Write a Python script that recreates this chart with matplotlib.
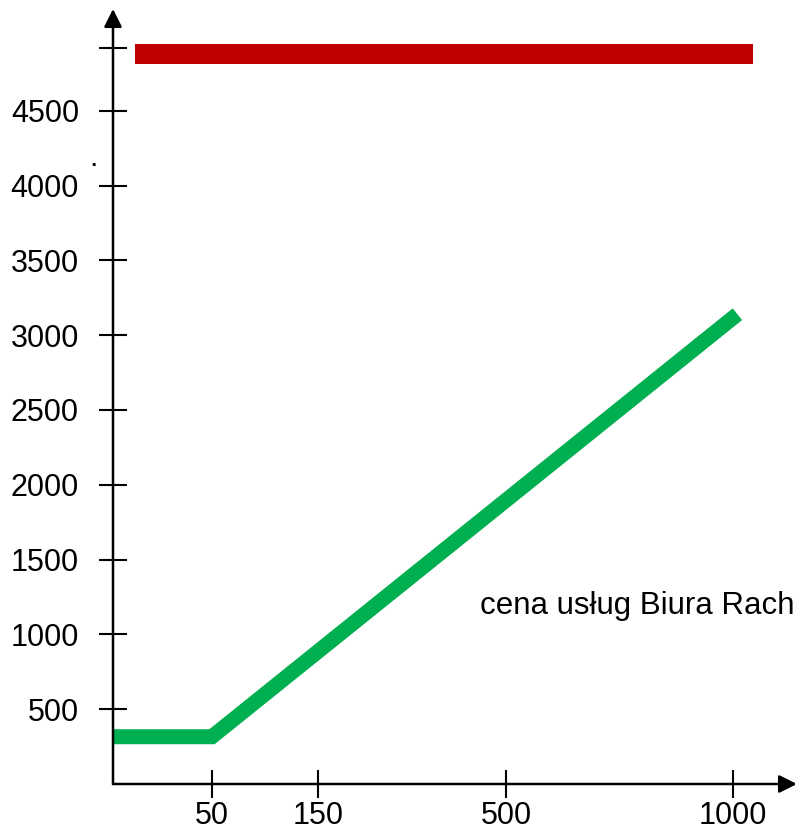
import numpy as np
import matplotlib
matplotlib.use("Agg")
import matplotlib.pyplot as plt

plt.rcParams['font.family'] = ['Liberation Sans', 'DejaVu Sans']

# data
x_ticks = [50, 150, 500, 1000]
x_tick_labels = ['50', '150', '500', '1000']
y_ticks = [500, 1000, 1500, 2000, 2500, 3000, 3500, 4000, 4500, 4920]
y_tick_labels = ['500', '1000', '1500', '2000', '2500', '3000', '3500', '4000', '4500', '']
red_x = [11, 1044]
red_y = [4878, 4878]
green_x = [0, 50, 1010]
green_y = [316, 316, 3140]
label_text = 'cena usług Biura Rach'

# non-uniform x axis spacing as drawn in the reference
scale_vals = [0, 50, 150, 500, 1000, 1200]
scale_pos = [0, 99, 205, 393, 620, 711]

def fwd(v):
    return np.interp(v, scale_vals, scale_pos)

def inv(p):
    return np.interp(p, scale_pos, scale_vals)

fig = plt.figure(figsize=(7.95, 8.34), dpi=100)
ax = fig.add_axes([113/795, 50/834, 684/795, 775/834])
ax.set_xscale('function', functions=(fwd, inv))
ax.set_xlim(0, 1141)
ax.set_ylim(0, 5180)

for s in ax.spines.values():
    s.set_visible(False)

ax.plot(red_x, red_y, color='#C00000', lw=14.4, solid_capstyle='butt')
ax.plot(green_x, green_y, color='#00B050', lw=10.8, solid_capstyle='butt',
        solid_joinstyle='miter')

# axes with arrows
ax.annotate('', xy=(0, 1), xytext=(0, 0), xycoords='axes fraction',
            arrowprops=dict(arrowstyle='-|>', color='black', lw=1.8,
                            mutation_scale=27, shrinkA=0, shrinkB=0),
            annotation_clip=False)
ax.annotate('', xy=(1, 0), xytext=(0, 0), xycoords='axes fraction',
            arrowprops=dict(arrowstyle='-|>', color='black', lw=1.8,
                            mutation_scale=27, shrinkA=0, shrinkB=0),
            annotation_clip=False)

ax.set_xticks(x_ticks)
ax.set_xticklabels(x_tick_labels)
ax.set_yticks(y_ticks)
ax.set_yticklabels(y_tick_labels)
ax.minorticks_off()
ax.tick_params(axis='both', direction='inout', length=20, width=1.5,
               labelsize=22, color='black', labelcolor='black')
ax.tick_params(axis='x', pad=2.5)
ax.tick_params(axis='y', pad=14.5)

ax.text(452, 1190, label_text, fontsize=22.5, va='center', ha='left',
        clip_on=False)
ax.text(-0.029, 4131, '.', fontsize=22, transform=ax.get_yaxis_transform(),
        ha='center', va='baseline')

fig.savefig('out.png', dpi=100)
